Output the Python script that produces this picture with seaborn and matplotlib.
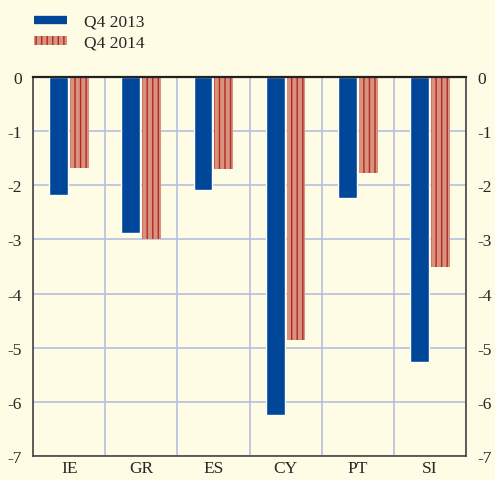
import numpy as np
import pandas as pd
import seaborn as sns
import matplotlib.pyplot as plt
from matplotlib.patches import Patch
from matplotlib.lines import Line2D

# data
countries = ['IE', 'GR', 'ES', 'CY', 'PT', 'SI']
q4_2013 = [-2.18, -2.89, -2.09, -6.24, -2.24, -5.27]
q4_2014 = [-1.69, -2.99, -1.70, -4.86, -1.77, -3.51]
series = ['Q4 2013', 'Q4 2014']

bg = '#FEFCE4'
blue = '#00479A'
salmon = '#D8927E'
darkred = '#B02A22'
gridc = '#B7BEDC'

df = pd.DataFrame({'country': countries, 'Q4 2013': q4_2013, 'Q4 2014': q4_2014})
df = df.melt(id_vars='country', var_name='period', value_name='value')

sns.set_style('white')
plt.rcParams['font.family'] = ['Liberation Serif', 'DejaVu Serif']
plt.rcParams['hatch.linewidth'] = 1.0

fig = plt.figure(figsize=(4.95, 4.81), dpi=100, facecolor=bg)
ax = fig.add_axes([0.0667, 0.050, 0.8747, 0.788])
ax.set_facecolor(bg)

sns.barplot(data=df, x='country', y='value', hue='period', order=countries,
            hue_order=series, palette=[blue, salmon], width=0.58, gap=0.1,
            saturation=1, legend=False, ax=ax)

for p in ax.containers[1]:
    p.set_hatch('|||')
    p.set_edgecolor(darkred)
    p.set_linewidth(0)

ax.set_ylim(-7, 0)
ax.set_xlim(-0.5, len(countries) - 0.5)
ax.set_yticks(range(-7, 1))
ax.set_yticklabels([str(v) for v in range(-7, 1)])
ax.set_xticks(np.arange(len(countries) + 1) - 0.5, minor=True)
ax.set_xlabel('')
ax.set_ylabel('')

ax.grid(False)
ax.yaxis.grid(True, color=gridc, lw=1.2)
ax.xaxis.grid(True, which='minor', color=gridc, lw=1.2)
ax.set_axisbelow(True)

ax.tick_params(axis='y', length=0, labelsize=12.5, labelright=True, pad=8)
ax.tick_params(axis='x', which='major', length=0, labelsize=12.5, pad=3)
ax.tick_params(axis='x', which='minor', length=4, width=1.2, color='#333333', direction='out')

for side in ['left', 'right', 'bottom', 'top']:
    ax.spines[side].set_visible(True)
    ax.spines[side].set_color('#444444')
    ax.spines[side].set_linewidth(1.2)
ax.spines['top'].set_color('#222222')
ax.spines['top'].set_linewidth(1.6)

handles = [Line2D([0], [0], color=blue, lw=6, solid_capstyle='butt'),
           Patch(facecolor=salmon, edgecolor=darkred, hatch='|||', linewidth=0)]
fig.legend(handles, series, loc='upper left', bbox_to_anchor=(0.045, 0.995),
           frameon=False, fontsize=12.5, handlelength=1.9, handleheight=0.45,
           handletextpad=0.95, labelspacing=0.3, borderaxespad=0.3)

fig.savefig('out.png', dpi=100, facecolor=bg)
